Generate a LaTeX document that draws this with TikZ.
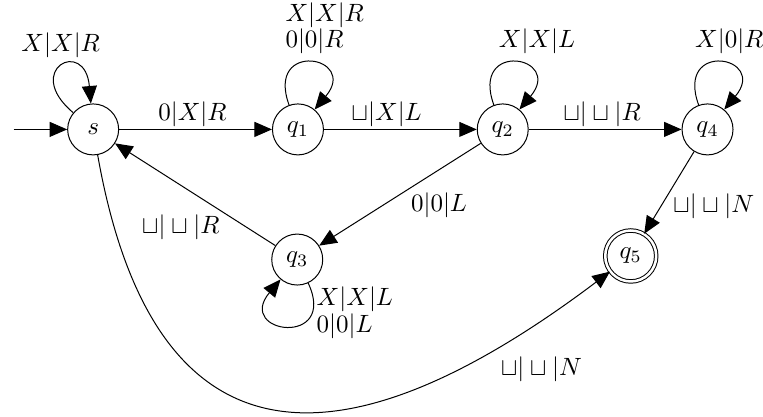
\documentclass[tikz,border=0pt]{standalone}
\usetikzlibrary{arrows.meta}
\begin{document}
\begin{tikzpicture}[
    >={Triangle[length=7pt,width=6pt]},
    tmstate/.style={draw,circle,minimum size=20.4pt,inner sep=0pt},
    accept/.style={tmstate,double,double distance=1pt},
    edgelab/.style={inner sep=1pt},
    every edge/.style={draw,->},
  ]
    \useasboundingbox (0,0) rectangle (10.73,5.86);

    \node[tmstate] (s)  at (1.31,4.04) {$s$};
    \node[tmstate] (q1) at (4.19,4.04) {$q_1$};
    \node[tmstate] (q2) at (7.07,4.04) {$q_2$};
    \node[tmstate] (q4) at (9.95,4.04) {$q_4$};
    \node[tmstate] (q3) at (4.18,2.21) {$q_3$};
    \node[accept]  (q5) at (8.87,2.26) {$q_5$};
    \coordinate (start) at (0.19,4.04);

    \path (start) edge (s);
    \path (s) edge[out=140,in=95,distance=0.94cm] node[above] {$X|X|R$} (s);
    \path (s) edge node[pos=0.48,above,edgelab] {$0|X|R$} (q1);
    \path (q1) edge[out=110,in=50,distance=0.98cm] node[above,xshift=6pt,align=left] {$X|X|R$\\[-1.5pt]$0|0|R$} (q1);
    \path (q1) edge node[pos=0.41,above,edgelab] {$\sqcup|X|L$} (q2);
    \path (q2) edge[out=110,in=50,distance=0.98cm] node[above,xshift=9pt] {$X|X|L$} (q2);
    \path (q2) edge node[pos=0.48,above,edgelab] {$\sqcup|\sqcup|R$} (q4);
    \path (q4) edge[out=110,in=50,distance=0.98cm] node[above,xshift=4pt] {$X|0|R$} (q4);
    \path (q2) edge node[pos=0.45,anchor=north west,edgelab] {$0|0|L$} (q3);
    \path (q3) edge node[pos=0.33,anchor=north east,edgelab] {$\sqcup|\sqcup|R$} (s);
    \path (q3) edge[out=-65,in=-130,distance=1cm] node[pos=0.2,right,inner sep=1.5pt,align=left] {$X|X|L$\\[-1.5pt]$0|0|L$} (q3);
    \path (q4) edge node[pos=0.48,anchor=north west,edgelab] {$\sqcup|\sqcup|N$} (q5);
    \path (s) edge[out=-80,in=-143,out distance=3.5cm,in distance=5.9cm] node[pos=0.88,anchor=north west,edgelab,yshift=-3pt] {$\sqcup|\sqcup|N$} (q5);
\end{tikzpicture}
\end{document}
